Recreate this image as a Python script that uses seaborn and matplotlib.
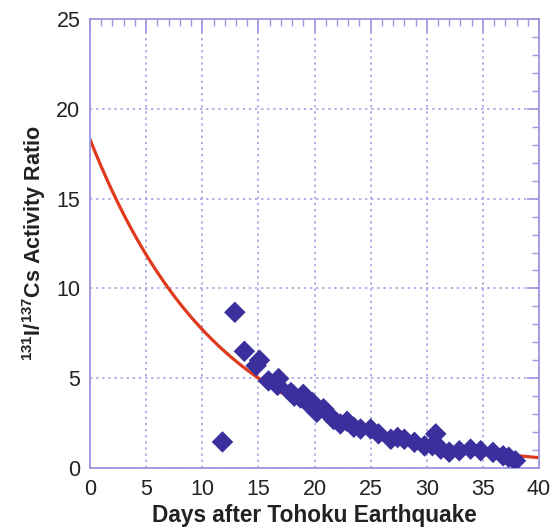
import numpy as np
import pandas as pd
import matplotlib
matplotlib.use("Agg")
import matplotlib.pyplot as plt
from matplotlib.ticker import MultipleLocator
import seaborn as sns

# Measured data points (days, 131I/137Cs ratio)
days = [11.8, 12.9, 13.75, 14.8, 15.1, 15.9, 16.7, 16.8, 17.9, 18.2, 18.75, 19.0,
        19.3, 19.8, 20.2, 20.8, 21.7, 22.3, 22.9, 23.5, 24.1, 25.0, 25.7, 26.8,
        27.4, 28.0, 28.9, 29.8, 30.5, 30.8, 31.25, 32.0, 32.9, 33.9, 34.8, 35.9,
        36.8, 37.3, 37.9]
ratio = [1.45, 8.67, 6.5, 5.7, 6.0, 4.85, 4.6, 4.98, 4.2, 4.0, 3.9, 4.1,
         3.67, 3.65, 3.1, 3.3, 2.7, 2.45, 2.6, 2.27, 2.17, 2.17, 1.9, 1.6,
         1.7, 1.6, 1.43, 1.23, 1.24, 1.9, 1.05, 0.88, 0.96, 1.05, 0.96, 0.87,
         0.68, 0.6, 0.4]

# Decay model curve parameters
initial_ratio = 18.3
half_life_days = 8.02

x_ticks = [0, 5, 10, 15, 20, 25, 30, 35, 40]
y_ticks = [0, 5, 10, 15, 20, 25]

sns.set_theme(style="white")
plt.rcParams['font.family'] = ['Liberation Sans', 'DejaVu Sans']
plt.rcParams['mathtext.fontset'] = 'custom'
plt.rcParams['mathtext.rm'] = 'Liberation Sans'
plt.rcParams['mathtext.bf'] = 'Liberation Sans:bold'

spine_c = '#9c97e0'
fig = plt.figure(figsize=(5.54, 5.30), dpi=100)
ax = fig.add_axes([0.1625, 0.117, 0.8105, 0.847])

curve_x = np.linspace(0, 40, 400)
curve_df = pd.DataFrame({'day': curve_x,
                         'ratio': initial_ratio * 0.5 ** (curve_x / half_life_days)})
sns.lineplot(data=curve_df, x='day', y='ratio', ax=ax, color='#e03a1e', lw=2.3, zorder=2)

pts = pd.DataFrame({'day': days, 'ratio': ratio})
sns.scatterplot(data=pts, x='day', y='ratio', ax=ax, marker='D', s=120,
                color='#3a2f9c', edgecolor='none', zorder=3)

ax.set_xlim(0, 40)
ax.set_ylim(0, 25)
ax.set_xticks(x_ticks)
ax.set_yticks(y_ticks)
ax.xaxis.set_minor_locator(MultipleLocator(1))
ax.yaxis.set_minor_locator(MultipleLocator(1))
ax.grid(True, which='major', color=spine_c, linestyle=(0, (1.5, 2.5)), lw=1.1)
ax.tick_params(which='both', direction='in', top=True, right=True,
               color=spine_c, labelsize=15.5, labelcolor='#222222')
ax.tick_params(which='major', length=9, width=1.2)
ax.tick_params(axis='x', which='major', pad=8)
ax.tick_params(axis='y', which='major', pad=7)
ax.tick_params(which='minor', length=5, width=1.0)
for s in ax.spines.values():
    s.set_color(spine_c)
    s.set_linewidth(1.3)

ax.set_xlabel('Days after Tohoku Earthquake', fontsize=16.3, fontweight='bold',
              color='#222222', labelpad=3)
ax.set_ylabel(r'$\mathbf{^{131}I/^{137}Cs}$ Activity Ratio', fontsize=15.5,
              fontweight='bold', color='#222222', labelpad=6)

fig.savefig('out.png', dpi=100)
